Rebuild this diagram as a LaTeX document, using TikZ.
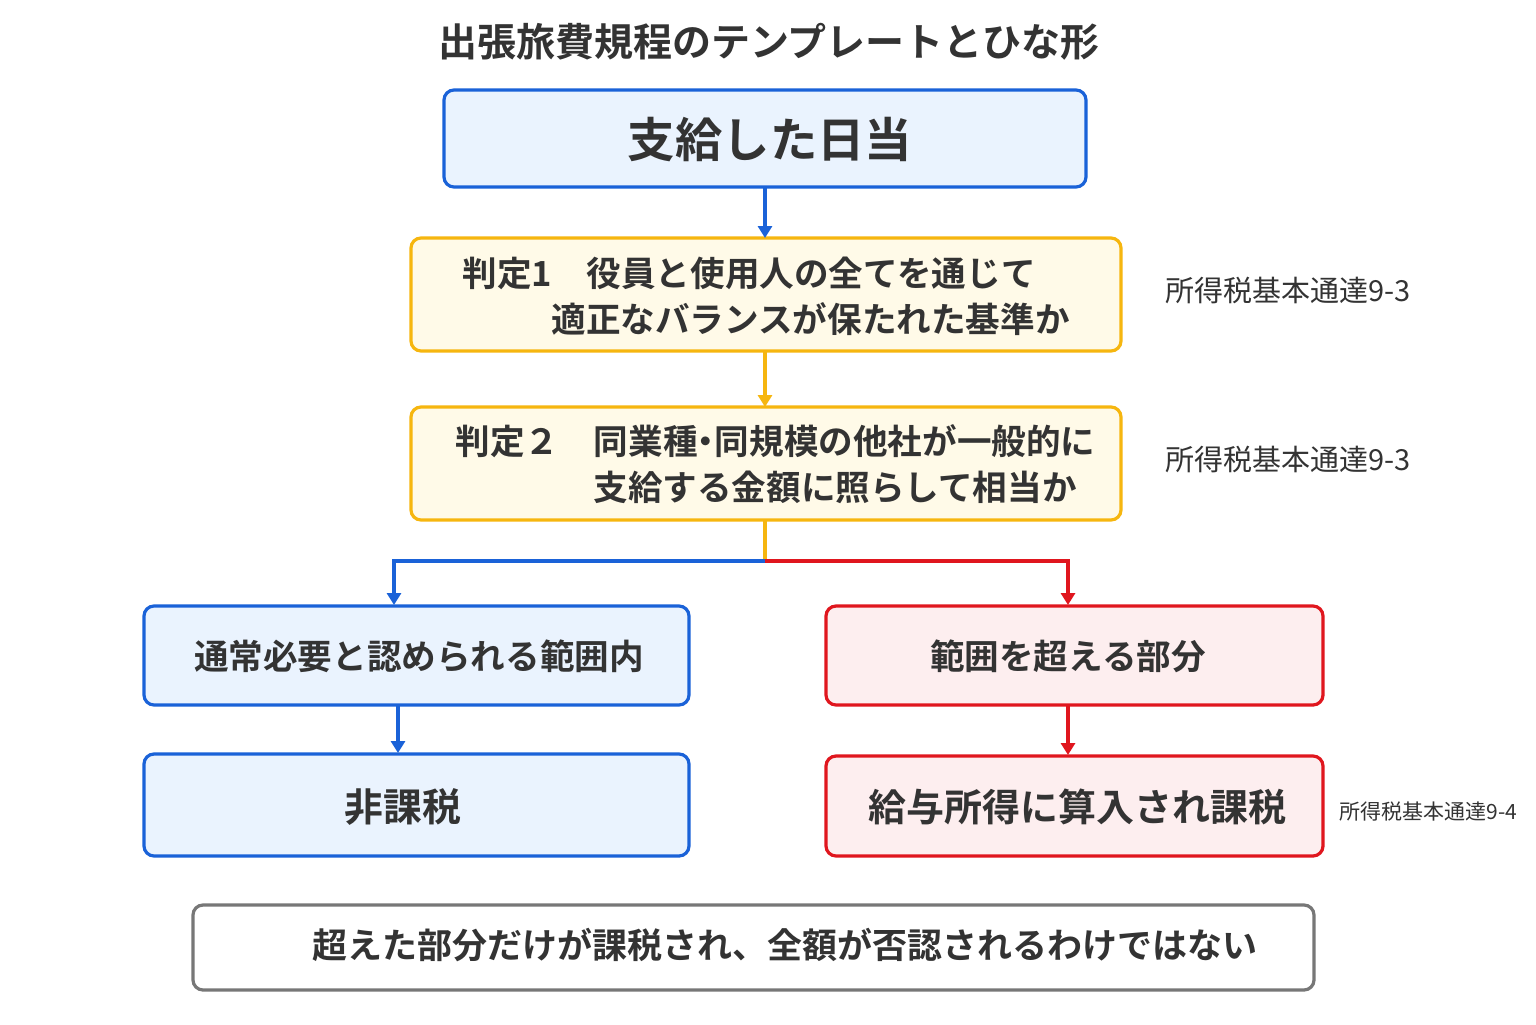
\documentclass[tikz,border=0pt]{standalone}
\usepackage{fontspec}
\newfontfamily\cjk{Noto Sans CJK JP}
\newfontfamily\cjkb{Noto Sans CJK JP Bold}
\usetikzlibrary{arrows.meta}
\definecolor{bl}{HTML}{1A62D8}\definecolor{blf}{HTML}{EAF3FE}
\definecolor{ye}{HTML}{F6B60F}\definecolor{yef}{HTML}{FFFAE8}
\definecolor{rd}{HTML}{E0161E}\definecolor{rdf}{HTML}{FDEEEF}
\definecolor{gr}{HTML}{777777}\definecolor{tx}{HTML}{333333}
\begin{document}
\begin{tikzpicture}[x=0.5pt,y=-0.5pt,
 box/.style={rounded corners=5pt,line width=1.6pt},
 arr/.style={line width=1.6pt,-{Triangle[length=6pt,width=7pt]}},
 t/.style={text=tx,font=\cjkb\fontsize{17.3}{20}\selectfont,inner sep=0},
 note/.style={text=tx,font=\cjk\fontsize{14.5}{16}\selectfont,inner sep=0}]
\useasboundingbox[fill=white] (0,0) rectangle (1536,1024);
\node[t,font=\cjkb\fontsize{19.5}{22}\selectfont] (title) at (769,42) {出張旅費規程のテンプレートとひな形};
\draw[box,draw=bl,fill=blf] (444,90) rectangle (1086,187);
\node[t,font=\cjkb\fontsize{23.7}{27}\selectfont] (b1) at (770,140) {支給した日当};
\coordinate (b1s) at (765,187);
\draw[box,draw=ye,fill=yef] (411,238) rectangle (1121,351);
\coordinate (b2n) at (765,238);\coordinate (b2s) at (765,351);
\node[t,anchor=west] (b2a) at (462,273) {判定1　役員と使用人の全てを通じて};
\node[t,anchor=west] (b2b) at (551,319) {適正なバランスが保たれた基準か};
\node[note,anchor=west] (n1) at (1165,290) {所得税基本通達9-3};
\draw[box,draw=ye,fill=yef] (411,407) rectangle (1121,520);
\coordinate (b3n) at (765,407);\coordinate (b3s) at (765,520);
\node[t,anchor=west] (b3a) at (455,441) {判定２　同業種\hspace{-0.25em}・\hspace{-0.25em}同規模の他社が一般的に};
\node[t,anchor=west] (b3b) at (593,487) {支給する金額に照らして相当か};
\node[note,anchor=west] (n2) at (1165,459) {所得税基本通達9-3};
\draw[box,draw=bl,fill=blf] (144,606) rectangle (689,705);
\node[t] (b4) at (419,656) {通常必要と認められる範囲内};
\draw[box,draw=bl,fill=blf] (144,754) rectangle (689,856);
\node[t,font=\cjkb\fontsize{19.4}{22}\selectfont] (b5) at (403,807) {非課税};
\draw[box,draw=rd,fill=rdf] (826,606) rectangle (1323,705);
\node[t] (b6) at (1068,656) {範囲を超える部分};
\draw[box,draw=rd,fill=rdf] (826,756) rectangle (1323,856);
\node[t,font=\cjkb\fontsize{19}{22}\selectfont] (b7) at (1077,807) {給与所得に算入され課税};
\node[note,font=\cjk\fontsize{10.5}{13}\selectfont,anchor=west] (n3) at (1339,812) {所得税基本通達9-4};
\draw[box,draw=gr,fill=white] (193,905) rectangle (1314,990);
\node[t,font=\cjkb\fontsize{17.5}{20}\selectfont] (b8) at (785,945) {超えた部分だけが課税され、全額が否認されるわけではない};
\coordinate (j) at (765,561);
\draw[arr,draw=bl] (b1s) -- (b2n);
\draw[arr,draw=ye] (b2s) -- (b3n);
\draw[line width=1.6pt,draw=ye] (b3s) -- (j);
\draw[arr,draw=bl] (j) -- (394,561) -- (394,605);
\draw[arr,draw=rd] (j) -- (1068,561) -- (1068,605);
\draw[arr,draw=bl] (398,705) -- (398,753);
\draw[arr,draw=rd] (1068,705) -- (1068,755);
\end{tikzpicture}
\end{document}
